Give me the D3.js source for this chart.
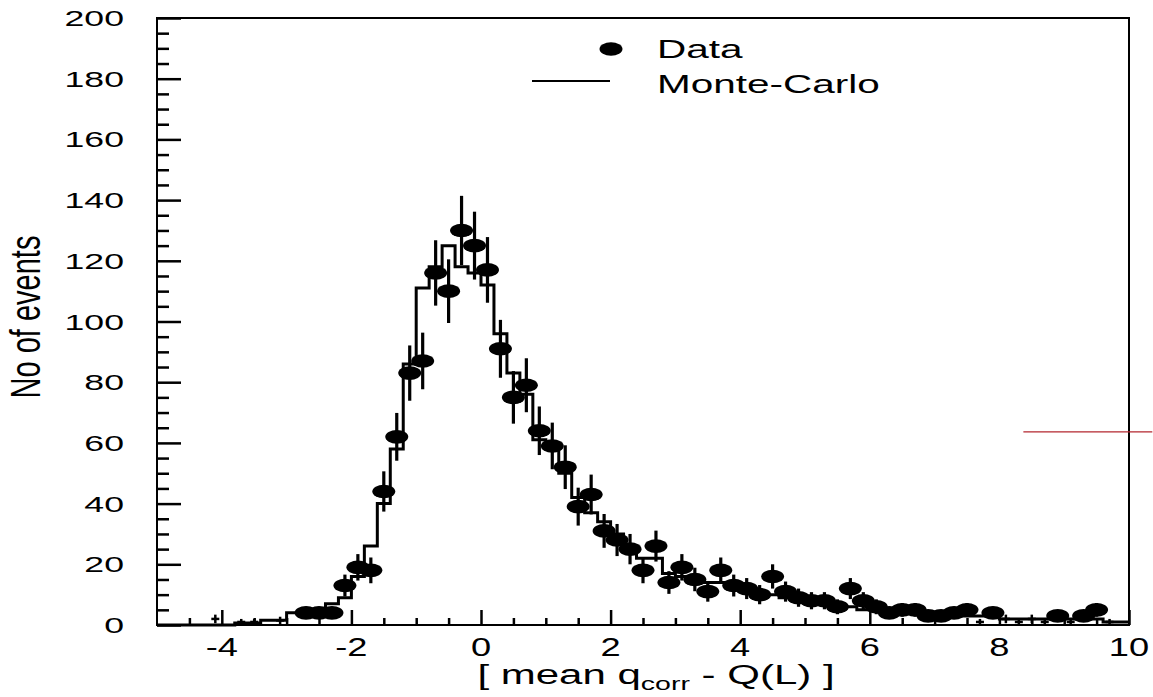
<!DOCTYPE html>
<html>
<head>
<meta charset="utf-8">
<script src="https://cdn.jsdelivr.net/npm/d3@7"></script>
<style>
  body { margin: 0; background: #fff; }
  text { font-family: "Liberation Sans", Arial, sans-serif; fill: #000; }
</style>
</head>
<body>
<svg id="chart" width="1153" height="697"></svg>
<script>
// data points (bin centres) and counts
var dataX = [-2.7, -2.5, -2.3, -2.1, -1.9, -1.7, -1.5, -1.3, -1.1, -0.9,
             -0.7, -0.5, -0.3, -0.1, 0.1, 0.3, 0.5, 0.7, 0.9, 1.1,
             1.3, 1.5, 1.7, 1.9, 2.1, 2.3, 2.5, 2.7, 2.9, 3.1,
             3.3, 3.5, 3.7, 3.9, 4.1, 4.3, 4.5, 4.7, 4.9, 5.1,
             5.3, 5.5, 5.7, 5.9, 6.1, 6.3, 6.5, 6.7, 6.9, 7.1,
             7.3, 7.5, 7.9, 8.9, 9.3, 9.5]
var dataY = [4, 4, 4, 13, 19, 18, 44, 62, 83, 87,
             116, 110, 130, 125, 117, 91, 75, 79, 64, 59,
             52, 39, 43, 31, 28, 25, 18, 26, 14, 19,
             15, 11, 18, 13, 12, 10, 16, 11, 9, 8,
             8, 6, 12, 8, 6, 4, 5, 5, 3, 3,
             4, 5, 4, 3, 3, 5]

// low-count bins drawn as bare crosses
var lowX = [-4.1, -3.7, -3.5, -3.1, 7.7, 8.1, 8.3, 8.5, 8.7, 9.1, 9.7]
var lowY = [2, 1, 1, 1.5, 1, 2, 1, 2, 1, 1, 1]

// Monte-Carlo histogram, bin centres and contents
var mcX = [-4.9, -4.7, -4.5, -4.3, -4.1, -3.9, -3.7, -3.5, -3.3, -3.1,
           -2.9, -2.7, -2.5, -2.3, -2.1, -1.9, -1.7, -1.5, -1.3, -1.1,
           -0.9, -0.7, -0.5, -0.3, -0.1, 0.1, 0.3, 0.5, 0.7, 0.9,
           1.1, 1.3, 1.5, 1.7, 1.9, 2.1, 2.3, 2.5, 2.7, 2.9,
           3.1, 3.3, 3.5, 3.7, 3.9, 4.1, 4.3, 4.5, 4.7, 4.9,
           5.1, 5.3, 5.5, 5.7, 5.9, 6.1, 6.3, 6.5, 6.7, 6.9,
           7.1, 7.3, 7.5, 7.7, 7.9, 8.1, 8.3, 8.5, 8.7, 8.9,
           9.1, 9.3, 9.5, 9.7, 9.9]
var mcY = [0, 0, 0, 0, 0, 0, 0.7, 0.7, 1.6, 1.6,
           4, 4, 4, 7, 9, 16, 26, 40, 58, 86,
           111, 118, 125, 118, 116, 112, 96, 83, 76, 61,
           58, 50, 42, 37, 34, 30, 25, 22, 22, 17,
           16, 15, 14, 14, 12, 11, 11, 10, 9, 8,
           8, 7, 6, 6, 5, 5, 4, 4, 4, 3,
           3, 3, 3, 3, 3, 2, 2, 2, 2, 2,
           2, 2, 2, 1, 1]
var binWidth = 0.2

var xMajor = [-4, -2, 0, 2, 4, 6, 8, 10]
var xMinor = [-4.5, -3.5, -3, -2.5, -1.5, -1, -0.5, 0.5, 1, 1.5, 2.5, 3, 3.5,
              4.5, 5, 5.5, 6.5, 7, 7.5, 8.5, 9, 9.5]
var yMajor = [0, 20, 40, 60, 80, 100, 120, 140, 160, 180, 200]
var yMinor = [5, 10, 15, 25, 30, 35, 45, 50, 55, 65, 70, 75, 85, 90, 95,
              105, 110, 115, 125, 130, 135, 145, 150, 155, 165, 170, 175,
              185, 190, 195]

var legendLabels = ["Data", "Monte-Carlo"]
var redLineX = [8.37, 10.36]
var redLineY = 63.6

// picture is stretched sideways, so are the glyphs
var sx = 1.62

var svg = d3.select("#chart")
var X = d3.scaleLinear().domain([-5, 10]).range([157, 1129])
var Y = d3.scaleLinear().domain([0, 200]).range([625, 18])

function stretched(g, x, y, k) {
    return g.append("text").attr("transform", `translate(${x},${y}) scale(${k || sx},1)`)
}

// ticks (ROOT style: pointing inwards)
function tidy(g) {
    g.select(".domain").remove()
    g.selectAll("line").attr("stroke", "#000").attr("stroke-width", 2.5)
}
svg.append("g").attr("transform", `translate(0,${Y(0)})`)
    .call(d3.axisBottom(X).tickValues(xMajor).tickSize(-15).tickFormat(""))
    .call(tidy)
svg.append("g").attr("transform", `translate(0,${Y(0)})`)
    .call(d3.axisBottom(X).tickValues(xMinor).tickSize(-7).tickFormat(""))
    .call(tidy)
svg.append("g").attr("transform", `translate(${X(-5)},0)`)
    .call(d3.axisLeft(Y).tickValues(yMajor).tickSize(-24).tickFormat(""))
    .call(tidy)
svg.append("g").attr("transform", `translate(${X(-5)},0)`)
    .call(d3.axisLeft(Y).tickValues(yMinor).tickSize(-12).tickFormat(""))
    .call(tidy)

// frame
svg.append("rect")
    .attr("x", X(-5)).attr("y", Y(200))
    .attr("width", X(10) - X(-5)).attr("height", Y(0) - Y(200))
    .attr("fill", "none").attr("stroke", "#000").attr("stroke-width", 2)

// tick labels
var labels = svg.append("g")
yMajor.forEach(function (v) {
    stretched(labels, 124, Y(v) + 8).attr("text-anchor", "end")
        .style("font-size", "22px").text(v)
})
xMajor.forEach(function (v) {
    stretched(labels, X(v), 656, 1.45).attr("text-anchor", "middle")
        .style("font-size", "25px").text(v)
})

// axis titles
var xt = stretched(svg, 656, 684, 1.5).attr("text-anchor", "middle").style("font-size", "28px")
xt.append("tspan").text("[ mean q")
xt.append("tspan").attr("dy", 6).style("font-size", "19px").text("corr")
xt.append("tspan").attr("dy", -6).text(" - Q(L) ]")

svg.append("text")
    .attr("transform", `translate(40,317) scale(1.45,1) rotate(-90)`)
    .attr("text-anchor", "middle")
    .style("font-size", "29px")
    .text("No of events")

// Monte-Carlo step histogram
var mcPts = mcX.map(function (c, i) { return [c - binWidth / 2, mcY[i]] })
mcPts.push([mcX[mcX.length - 1] + binWidth / 2, mcY[mcY.length - 1]])
var step = d3.line()
    .x(function (d) { return X(d[0]) })
    .y(function (d) { return Y(d[1]) })
    .curve(d3.curveStepAfter)
svg.append("path")
    .attr("d", step(mcPts))
    .attr("fill", "none").attr("stroke", "#000").attr("stroke-width", 3)

// low-count crosses
var low = svg.append("g").attr("stroke", "#000").attr("stroke-width", 2.5)
lowX.forEach(function (c, i) {
    var e = Math.sqrt(lowY[i])
    low.append("line").attr("x1", X(c)).attr("x2", X(c))
        .attr("y1", Y(lowY[i] + e)).attr("y2", Y(Math.max(0, lowY[i] - e)))
    low.append("line").attr("x1", X(c) - 4).attr("x2", X(c) + 4)
        .attr("y1", Y(lowY[i])).attr("y2", Y(lowY[i]))
})

// data: error bars and markers
var pts = dataX.map(function (c, i) { return { x: c, y: dataY[i] } })
svg.append("g").selectAll("line")
    .data(pts)
    .join("line")
    .attr("x1", function (d) { return X(d.x) })
    .attr("x2", function (d) { return X(d.x) })
    .attr("y1", function (d) { return Y(d.y + Math.sqrt(d.y)) })
    .attr("y2", function (d) { return Y(d.y - Math.sqrt(d.y)) })
    .attr("stroke", "#000").attr("stroke-width", 3.2)
svg.append("g").selectAll("ellipse")
    .data(pts)
    .join("ellipse")
    .attr("cx", function (d) { return X(d.x) })
    .attr("cy", function (d) { return Y(d.y) })
    .attr("rx", 11.5).attr("ry", 6.8)
    .attr("fill", "#000")

// legend
var leg = svg.append("g")
leg.append("ellipse").attr("cx", 611).attr("cy", 49).attr("rx", 11.5).attr("ry", 6.8).attr("fill", "#000")
leg.append("line").attr("x1", 532).attr("x2", 610).attr("y1", 81).attr("y2", 81)
    .attr("stroke", "#000").attr("stroke-width", 2)
stretched(leg, 657, 58).style("font-size", "25px").text(legendLabels[0])
stretched(leg, 657, 93).style("font-size", "25px").text(legendLabels[1])

// stray red line on the right
svg.append("line")
    .attr("x1", X(redLineX[0])).attr("x2", X(redLineX[1]))
    .attr("y1", Y(redLineY)).attr("y2", Y(redLineY))
    .attr("stroke", "#b3262e").attr("stroke-width", 1.2)
</script>
</body>
</html>
